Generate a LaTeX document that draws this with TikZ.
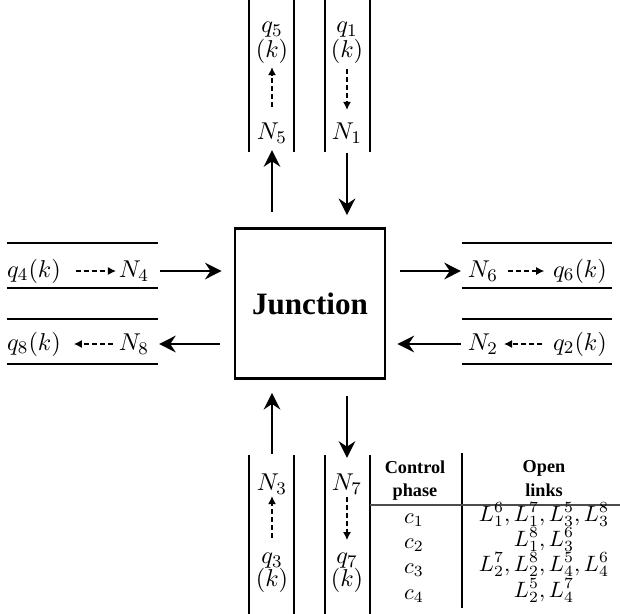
\documentclass[tikz,border=0pt]{standalone}
\usepackage[no-math]{fontspec}
\newfontfamily\tnr{Liberation Serif}
\usetikzlibrary{arrows.meta}
\tikzset{
  lane/.style={line width=0.9pt},
  flow/.style={line width=0.9pt, -{Stealth[length=7.5pt,width=7.5pt,inset=2.5pt]}},
  queue/.style={line width=0.55pt, dash pattern=on 2.2pt off 1.4pt, -{Latex[length=3.6pt,width=3.6pt]}},
  lbl/.style={inner sep=0pt, outer sep=0pt, font=\fontsize{10.8}{13}\selectfont},
  jbox/.style={draw, line width=1.2pt, minimum size=67.5pt, inner sep=0pt, font=\tnr\bfseries\fontsize{14}{16}\selectfont},
  th/.style={inner sep=0pt, anchor=base, font=\tnr\bfseries\fontsize{8.2}{10}\selectfont},
  td/.style={inner sep=0pt, anchor=base, font=\fontsize{9.8}{12}\selectfont},
  tabline/.style={line width=0.6pt},
  tabrule/.style={line width=0.5pt, black!70}
}
\begin{document}
\begin{tikzpicture}[x=0.45pt,y=-0.45pt]
\useasboundingbox (0,0) rectangle (620,614);
% lanes
\foreach \x in {249,294,325,370} {
  \draw[lane] (\x,0) -- (\x,152);
  \draw[lane] (\x,455) -- (\x,614);
}
\foreach \y in {243,288,319,364} {
  \draw[lane] (7,\y) -- (158,\y);
  \draw[lane] (462,\y) -- (612,\y);
}
% junction
\node[jbox] (J) at (310,303.5) {Junction};
% top lanes
\node[lbl] (q5) at (272,30) {$q_5$};
\node[lbl] (k5) at (272,51) {$(k)$};
\node[lbl] (N5) at (272,133) {$N_5$};
\node[lbl] (q1) at (347,30) {$q_1$};
\node[lbl] (k1) at (347,51) {$(k)$};
\node[lbl] (N1) at (347,133) {$N_1$};
% bottom lanes
\node[lbl] (N3) at (272,484) {$N_3$};
\node[lbl] (q3) at (272,561) {$q_3$};
\node[lbl] (k3) at (272,580) {$(k)$};
\node[lbl] (N7) at (347,484) {$N_7$};
\node[lbl] (q7) at (347,561) {$q_7$};
\node[lbl] (k7) at (347,580) {$(k)$};
% left lanes
\node[lbl] (q4) at (34,271) {$q_4(k)$};
\node[lbl] (N4) at (134,271) {$N_4$};
\node[lbl] (q8) at (34,344) {$q_8(k)$};
\node[lbl] (N8) at (134,344) {$N_8$};
% right lanes
\node[lbl] (N6) at (483,271) {$N_6$};
\node[lbl] (q6) at (580,271) {$q_6(k)$};
\node[lbl] (N2) at (483,344) {$N_2$};
\node[lbl] (q2) at (580,344) {$q_2(k)$};
% solid flows
\draw[flow, shorten <=6.75pt, shorten >=3.15pt] (J.north -| N5) -- (N5.south);
\draw[flow, shorten <=4.5pt, shorten >=5.4pt] (N1.south) -- (J.north -| N1);
\draw[flow, shorten <=9pt, shorten >=5.85pt] (N3.north) -- (J.south -| N3);
\draw[flow, shorten <=7.2pt, shorten >=7.2pt] (J.south -| N7) -- (N7.north);
\draw[flow, shorten <=5pt, shorten >=5.4pt] (N4.east) -- (N4.east -| J.west);
\draw[flow, shorten <=6.3pt, shorten >=4.5pt] (N8.east -| J.west) -- (N8.east);
\draw[flow, shorten <=6.3pt, shorten >=3.15pt] (N6.west -| J.east) -- (N6.west);
\draw[flow, shorten <=3.15pt, shorten >=5pt] (N2.west) -- (N2.west -| J.east);
% queue flows
\draw[queue, shorten <=7.2pt, shorten >=1.8pt] (N5.north) -- (k5.south);
\draw[queue, shorten <=2.7pt, shorten >=5.85pt] (k1.south) -- (N1.north);
\draw[queue, shorten <=7pt, shorten >=0.9pt] (q3.north) -- (N3.south);
\draw[queue, shorten <=1.35pt, shorten >=6pt] (N7.south) -- (q7.north);
\draw[queue, shorten <=6.75pt, shorten >=1.35pt] (q4.east) -- (N4.west);
\draw[queue, shorten <=2.7pt, shorten >=5.85pt] (N8.west) -- (q8.east);
\draw[queue, shorten <=4.5pt, shorten >=4pt] (N6.east) -- (q6.west);
\draw[queue, shorten <=5pt, shorten >=2.7pt] (q2.west) -- (N2.east);
% table
\draw[tabline] (462,453) -- (462,608);
\draw[tabrule] (370,505) -- (620,505);
\node[th] (hc1) at (415,473) {Control};
\node[th] (hc2) at (415,496) {phase};
\node[th] (ho1) at (544,472) {Open};
\node[th] (ho2) at (544,496) {links};
\node[td] (c1) at (414,523) {$c_1$};
\node[td] (c2) at (414,548) {$c_2$};
\node[td] (c3) at (414,573) {$c_3$};
\node[td] (c4) at (414,599) {$c_4$};
\node[td] (l1) at (544,521) {$L_1^6, L_1^7, L_3^5, L_3^8$};
\node[td] (l2) at (544,546) {$L_1^8, L_3^6$};
\node[td] (l3) at (544,571) {$L_2^7, L_2^8, L_4^5, L_4^6$};
\node[td] (l4) at (544,597) {$L_2^5, L_4^7$};
\end{tikzpicture}
\end{document}
